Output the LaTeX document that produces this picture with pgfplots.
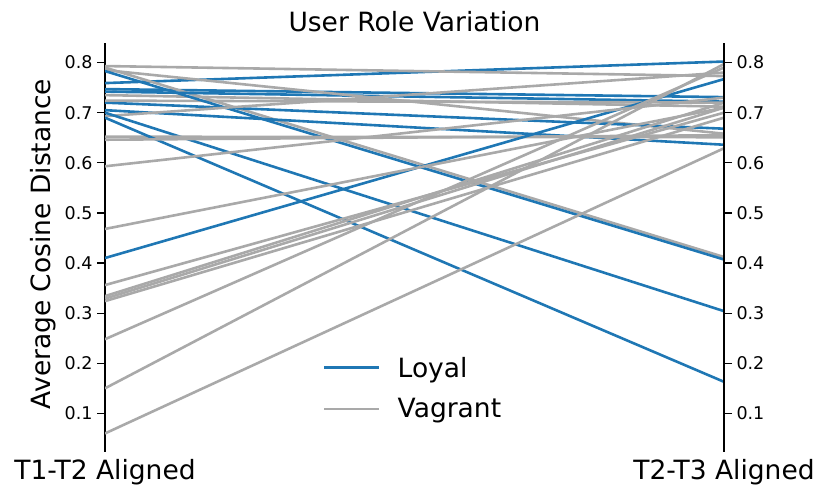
\documentclass[border=0pt]{standalone}
\usepackage{pgfplots}
\pgfplotsset{compat=1.18}
\usepackage{fontspec}
\setmainfont{DejaVu Sans}
\definecolor{loyal}{HTML}{1F77B4}
\definecolor{vag}{HTML}{A9A9A9}
\pgfplotsset{
  common/.style={
    at={(105bp,47bp)}, anchor=south west,
    scale only axis, width=619bp, height=409bp,
    xmin=0, xmax=1, ymin=0.023, ymax=0.839,
    ytick={0.1,0.2,0.3,0.4,0.5,0.6,0.7,0.8},
    yticklabels={0.1,0.2,0.3,0.4,0.5,0.6,0.7,0.8},
    /pgf/number format/assume math mode=true,
    tick align=outside,
    major tick length=8bp,
    every tick/.style={black, line width=1.3bp},
    axis line style={black, line width=1.3bp},
    yticklabel style={font=\fontsize{17.5bp}{20bp}\selectfont},
  },
  bl/.style={color=loyal, line width=2.6bp, no marks},
  gr/.style={color=vag, line width=2.6bp, no marks},
}
\begin{document}
\begin{tikzpicture}[x=1bp,y=1bp]
\path[use as bounding box] (0,0) rectangle (830,499);
\begin{axis}[common,
  axis y line*=left, axis x line*=bottom,
  x axis line style={draw=none},
  xtick={0,1}, xticklabels={T1-T2 Aligned,T2-T3 Aligned},
  xtick style={draw=none},
  xticklabel style={font=\fontsize{26.5bp}{30bp}\selectfont, anchor=base, yshift=-20bp},
  yticklabel style={xshift=-1bp},
  legend style={draw=none, fill=none, at={(0.352,0.156)}, anchor=west,
    font=\fontsize{26.5bp}{30bp}\selectfont, row sep=14bp, inner sep=0pt,
    nodes={inner sep=3bp},
    /tikz/every odd column/.append style={column sep=14bp}},
  legend cell align=left,
  legend image code/.code={\draw[#1] (0bp,0bp) -- (55bp,0bp);},
]
\addplot[bl] coordinates {(0,0.759) (1,0.802)};
\addlegendentry{Loyal}
\addplot[gr] coordinates {(0,0.793) (1,0.773)};
\addlegendentry{Vagrant}
\addplot[bl, forget plot] coordinates {(0,0.747) (1,0.731)};
\addplot[gr, forget plot] coordinates {(0,0.790) (1,0.412)};
\addplot[bl, forget plot] coordinates {(0,0.742) (1,0.722)};
\addplot[gr, forget plot] coordinates {(0,0.785) (1,0.658)};
\addplot[bl, forget plot] coordinates {(0,0.720) (1,0.668)};
\addplot[gr, forget plot] coordinates {(0,0.735) (1,0.712)};
\addplot[bl, forget plot] coordinates {(0,0.705) (1,0.636)};
\addplot[gr, forget plot] coordinates {(0,0.724) (1,0.720)};
\addplot[bl, forget plot] coordinates {(0,0.783) (1,0.407)};
\addplot[gr, forget plot] coordinates {(0,0.693) (1,0.780)};
\addplot[bl, forget plot] coordinates {(0,0.700) (1,0.304)};
\addplot[gr, forget plot] coordinates {(0,0.652) (1,0.651)};
\addplot[bl, forget plot] coordinates {(0,0.690) (1,0.163)};
\addplot[gr, forget plot] coordinates {(0,0.646) (1,0.655)};
\addplot[bl, forget plot] coordinates {(0,0.410) (1,0.767)};
\addplot[gr, forget plot] coordinates {(0,0.593) (1,0.730)};
\addplot[gr, forget plot] coordinates {(0,0.468) (1,0.710)};
\addplot[gr, forget plot] coordinates {(0,0.356) (1,0.700)};
\addplot[gr, forget plot] coordinates {(0,0.334) (1,0.720)};
\addplot[gr, forget plot] coordinates {(0,0.329) (1,0.710)};
\addplot[gr, forget plot] coordinates {(0,0.324) (1,0.690)};
\addplot[gr, forget plot] coordinates {(0,0.248) (1,0.790)};
\addplot[gr, forget plot] coordinates {(0,0.150) (1,0.797)};
\addplot[gr, forget plot] coordinates {(0,0.060) (1,0.629)};
\end{axis}
\begin{axis}[common,
  axis y line*=right, axis x line=none,
  yticklabel style={xshift=1bp},
]
\end{axis}
\node[anchor=base, font=\fontsize{26.5bp}{30bp}\selectfont] at (414.5,467) {User Role Variation};
\node[anchor=base, rotate=90, font=\fontsize{26.5bp}{30bp}\selectfont] at (50,255) {Average Cosine Distance};
\end{tikzpicture}
\end{document}
